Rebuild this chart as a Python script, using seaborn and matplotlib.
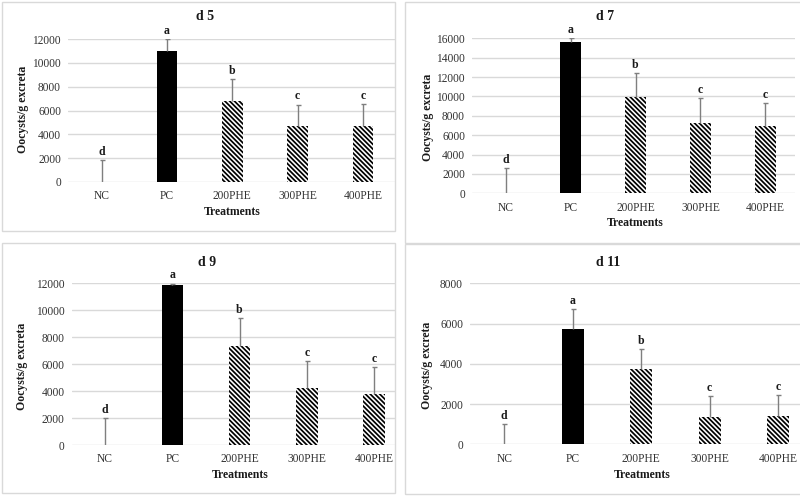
import numpy as np
import pandas as pd
import seaborn as sns
import matplotlib.pyplot as plt
from matplotlib.patches import Rectangle

treatments = ['NC', 'PC', '200PHE', '300PHE', '400PHE']
letters = ['d', 'a', 'b', 'c', 'c']

# mean oocysts/g excreta and upper error (SD) per day
d5_mean = [0, 11000, 6800, 4700, 4700]
d5_err = [1830, 1030, 1830, 1800, 1830]
d7_mean = [0, 15600, 9900, 7300, 6900]
d7_err = [2600, 400, 2550, 2500, 2450]
d9_mean = [0, 11880, 7370, 4200, 3760]
d9_err = [2030, 100, 2030, 2030, 2050]
d11_mean = [0, 5710, 3740, 1340, 1420]
d11_err = [1010, 1030, 1010, 1060, 1010]

sns.set_theme(style='white')
plt.rcParams['font.family'] = ['Liberation Serif', 'DejaVu Serif']
plt.rcParams['hatch.linewidth'] = 1.25

W, H = 800, 497
fig = plt.figure(figsize=(8, 4.97), dpi=100)


def fx(x):
    return x / W


def fy(y):
    return 1 - y / H


# chart area frames
for l, t, r, b in [(2, 2, 395, 231), (405, 2, 805, 243), (2, 243, 395, 493), (405, 244, 805, 494)]:
    fig.patches.append(Rectangle((fx(l), fy(b)), (r - l) / W, (b - t) / H, transform=fig.transFigure,
                                 fill=False, edgecolor='#d9d9d9', lw=1))


def draw_panel(title, means, errs, ymax, box, xlim, title_xy, ylab_xy, xlab_xy):
    l, t, r, b = box
    ax = fig.add_axes([fx(l), fy(b), (r - l) / W, (b - t) / H])
    df = pd.DataFrame({'Treatment': treatments, 'value': means})
    sns.barplot(data=df, x='Treatment', y='value', ax=ax, width=0.32, color='black',
                saturation=1, errorbar=None)
    for patch, name in zip(ax.patches, treatments):
        patch.set_linewidth(0)
        if name == 'PC':
            patch.set_facecolor('black')
            patch.set_edgecolor('black')
        else:
            patch.set_facecolor('white')
            patch.set_edgecolor('black')
            patch.set_hatch('\\' * 7)

    x = np.arange(len(treatments))
    eb = ax.errorbar(x, means, yerr=[np.zeros(len(means)), errs], fmt='none', ecolor='#7f7f7f',
                     elinewidth=1, capsize=1.8, capthick=1)
    eb[1][0].set_visible(False)

    for i, (m, e, lt) in enumerate(zip(means, errs, letters)):
        ax.annotate(lt, (i, m + e), xytext=(0, 1.5), textcoords='offset points', ha='center',
                    va='bottom', fontweight='bold', fontsize=8.5, color='#1a1a1a')

    ax.set_xlim(*xlim)
    ax.set_ylim(0, ymax)
    ax.set_yticks(np.arange(0, ymax + 1, 2000))
    ax.yaxis.grid(True, color='#d9d9d9', lw=1)
    ax.set_axisbelow(True)
    for s in ax.spines.values():
        s.set_visible(False)
    ax.tick_params(axis='both', length=0, labelsize=8.3, colors='#333333')
    ax.tick_params(axis='x', pad=6)
    ax.tick_params(axis='y', pad=5)

    ax.set_xlabel('Treatments', fontweight='bold', fontsize=8.5, color='#1a1a1a')
    ax.xaxis.set_label_coords(fx(xlab_xy[0]), fy(xlab_xy[1]), transform=fig.transFigure)
    ax.xaxis.label.set_va('center')
    ax.set_ylabel('Oocysts/g excreta', fontweight='bold', fontsize=8.5, color='#1a1a1a')
    ax.yaxis.set_label_coords(fx(ylab_xy[0]), fy(ylab_xy[1]), transform=fig.transFigure)
    ax.yaxis.label.set_va('center')

    fig.text(fx(title_xy[0]), fy(title_xy[1]), title, ha='center', va='center',
             fontweight='bold', fontsize=10, color='#1a1a1a')
    return ax


draw_panel('d 5', d5_mean, d5_err, 12000, (68, 39, 395, 182), (-0.516, 4.49),
           (205, 17), (23, 109), (232, 212))
draw_panel('d 7', d7_mean, d7_err, 16000, (472, 38.3, 795, 193.3), (-0.525, 4.46),
           (605, 17), (427.7, 117), (635, 222.7))
draw_panel('d 9', d9_mean, d9_err, 12000, (71.7, 283.3, 395, 445), (-0.495, 4.31),
           (207, 263), (22.3, 366), (240, 475))
draw_panel('d 11', d11_mean, d11_err, 8000, (470, 283.3, 800, 444.3), (-0.5, 4.32),
           (608, 263), (426.7, 365), (641.7, 475))

fig.savefig('out.png', dpi=100)
